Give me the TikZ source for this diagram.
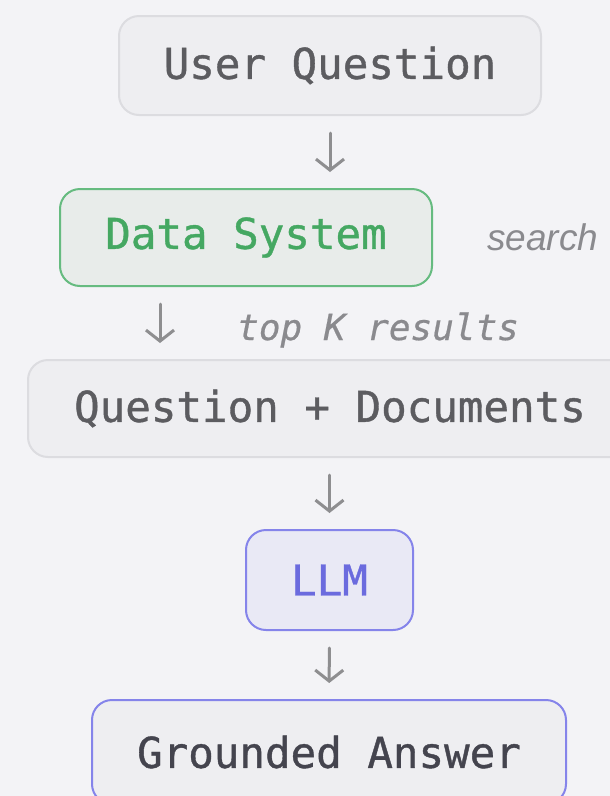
\documentclass[tikz,border=0pt]{standalone}
\usepackage{fontspec}
\usetikzlibrary{arrows.meta}
\newfontfamily\monof[FakeBold=0.9]{DejaVu Sans Mono}
\newfontfamily\monoit[FakeBold=0.5]{DejaVu Sans Mono Oblique}
\newfontfamily\sansit{Liberation Sans}
\definecolor{bg}{HTML}{F3F3F6}
\definecolor{boxfill}{HTML}{EEEEF1}
\definecolor{boxline}{HTML}{DCDCE0}
\definecolor{txtgray}{HTML}{5C5C60}
\definecolor{greenline}{HTML}{66BB80}
\definecolor{greenfill}{HTML}{E8ECEA}
\definecolor{greentxt}{HTML}{45A862}
\definecolor{purpline}{HTML}{8584EA}
\definecolor{purpfill}{HTML}{E9E9F5}
\definecolor{purptxt}{HTML}{6B6BDE}
\definecolor{darktxt}{HTML}{44444E}
\definecolor{arrowgray}{HTML}{8E8E90}
\definecolor{labelgray}{HTML}{8A8A8E}
\tikzset{
  boxbase/.style={rounded corners=20pt, line width=2pt, inner sep=0pt, font=\monof\fontsize{42.5}{46}\selectfont},
  plainbox/.style={boxbase, draw=boxline, fill=boxfill, text=txtgray},
  greenbox/.style={boxbase, draw=greenline, fill=greenfill, text=greentxt},
  llmbox/.style={boxbase, draw=purpline, fill=purpfill, text=purptxt},
  answerbox/.style={boxbase, draw=purpline, fill=boxfill, text=darktxt},
  flow/.style={draw=arrowgray, line width=3pt, line cap=round, -{Straight Barb[length=11pt, width=28pt, line width=3pt]}, shorten <=17pt, shorten >=16pt},
  lbl/.style={text=labelgray, inner sep=0pt, anchor=west}
}
\begin{document}
\begin{tikzpicture}[x=1pt, y=-1pt]
\useasboundingbox (0,0) rectangle (610,796);
\fill[bg] (0,0) rectangle (610,796);
\node[plainbox, minimum width=422pt, minimum height=99pt] (uq) at (330,65.5) {User Question};
\node[greenbox, minimum width=372pt, minimum height=97pt] (ds) at (246,237.5) {Data System};
\node[plainbox, minimum width=604pt, minimum height=97pt] (qd) at (330,408.5) {Question + Documents};
\node[llmbox, minimum width=167pt, minimum height=100pt] (llm) at (329.5,580) {LLM};
\node[answerbox, minimum width=474pt, minimum height=104pt] (ga) at (329,752) {Grounded Answer};
\node[lbl, font=\sansit\itshape\fontsize{37}{40}\selectfont] (search) at (487,237) {search};
\node[lbl, font=\monoit\fontsize{36}{40}\selectfont] (topk) at (237,330) {top K results};
\draw[flow] (uq) -- (ds.north -| uq);
\draw[flow] ([xshift=-86pt]ds.south) -- ([xshift=-170pt]qd.north);
\draw[flow] (qd.south -| llm) -- (llm);
\draw[flow] (llm) -- (ga);
\end{tikzpicture}
\end{document}
